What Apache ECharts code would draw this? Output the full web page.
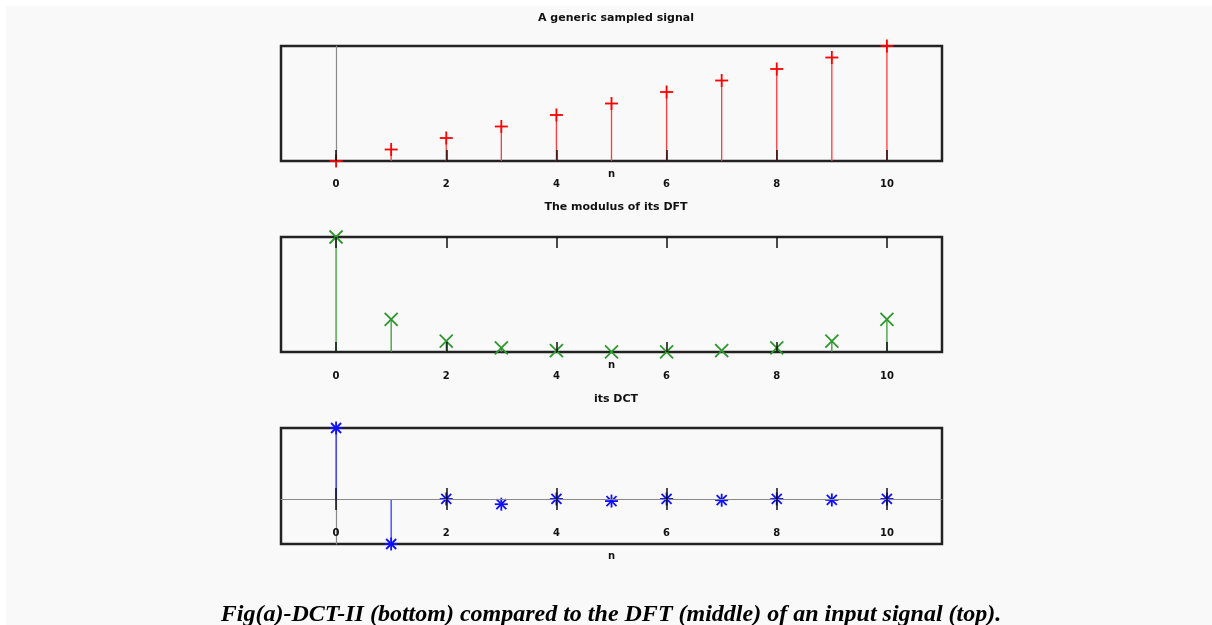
<!DOCTYPE html>
<html><head><meta charset="utf-8">
<script src="https://cdn.jsdelivr.net/npm/echarts@6/dist/echarts.min.js"></script>
<style>html,body{margin:0;padding:0;background:#fff;overflow:hidden;} #c{width:1212px;height:625px;}</style>
</head><body><div id="c"></div>
<script>
const n = [0,1,2,3,4,5,6,7,8,9,10];
const signal = [0,1,2,3,4,5,6,7,8,9,10];
const dftModulus = [55,19.5,10.2,7.3,6.05,5.56,5.56,6.05,7.3,10.2,19.5];
const dct = [16.58,-10.53,0,-1.23,0,-0.5,0,-0.3,0,-0.23,0];
const xTicks = [0,2,4,6,8,10];
const titles = ['A generic sampled signal','The modulus of its DFT','its DCT'];
const caption = 'Fig(a)-DCT-II (bottom) compared to the DFT (middle) of an input signal (top).';

const FONT = 'DejaVu Sans';
const grids = [
  {left:281, right:270, top:46, height:115},
  {left:281, right:270, top:237, height:115},
  {left:281, right:270, top:428, height:116}
];
const dctMin = -10.53, dctMax = 16.58;
// distance (px) of the zero line above the bottom edge of the DCT box
const zeroOffset = -(grids[2].height * (0 - dctMin) / (dctMax - dctMin));

function stemRender(marker, markColor, stemColor, base){
  return function(params, api){
    const cs = params.coordSys;
    const x = api.value(0), y = api.value(1);
    const p = api.coord([x, y]);
    const b = api.coord([x, base]);
    const by = Math.min(Math.max(b[1], cs.y), cs.y + cs.height);
    const h = 6.5, d = 5;
    let segs;
    if (marker === 'plus') segs = [[-h,0,h,0],[0,-h,0,h]];
    else if (marker === 'cross') segs = [[-h,-h,h,h],[-h,h,h,-h]];
    else segs = [[-h,0,h,0],[0,-h,0,h],[-d,-d,d,d],[-d,d,d,-d]];
    const children = [{
      type:'line', shape:{x1:p[0], y1:by, x2:p[0], y2:p[1]},
      style:{stroke:stemColor, lineWidth:1.3}
    }];
    segs.forEach(s => children.push({
      type:'line', shape:{x1:p[0]+s[0], y1:p[1]+s[1], x2:p[0]+s[2], y2:p[1]+s[3]},
      style:{stroke:markColor, lineWidth:1.8}
    }));
    return {type:'group', children};
  };
}

const tickStyle = {color:'#111', width:1.5};
const labelStyle = {fontFamily:FONT, fontWeight:'bold', fontSize:10, color:'#111'};
const nameStyle = {fontFamily:FONT, fontWeight:'bold', fontSize:10, color:'#111'};

const xAxes = [
  // top plot
  {gridIndex:0, type:'value', min:-1, max:11, position:'bottom',
   axisLine:{show:false, onZero:false}, splitLine:{show:false},
   axisTick:{inside:true, length:11, lineStyle:tickStyle, customValues:xTicks},
   axisLabel:Object.assign({margin:18, customValues:xTicks}, labelStyle),
   name:'n', nameLocation:'middle', nameGap:8, nameMoveOverlap:false, nameTextStyle:nameStyle, z:5},
  // middle plot bottom
  {gridIndex:1, type:'value', min:-1, max:11, position:'bottom',
   axisLine:{show:false, onZero:false}, splitLine:{show:false},
   axisTick:{inside:true, length:10, lineStyle:tickStyle, customValues:xTicks},
   axisLabel:Object.assign({margin:19, customValues:xTicks}, labelStyle),
   name:'n', nameLocation:'middle', nameGap:8, nameMoveOverlap:false, nameTextStyle:nameStyle, z:5},
  // middle plot top ticks
  {gridIndex:1, type:'value', min:-1, max:11, position:'top',
   axisLine:{show:false, onZero:false}, splitLine:{show:false},
   axisTick:{inside:true, length:11, lineStyle:tickStyle, customValues:xTicks},
   axisLabel:{show:false}, z:5},
  // bottom plot axis at zero (upward ticks + labels)
  {gridIndex:2, type:'value', min:-1, max:11, position:'bottom', offset:zeroOffset,
   axisLine:{show:true, onZero:false, lineStyle:{color:'#8a8a8a', width:1.2}}, splitLine:{show:false},
   axisTick:{inside:true, length:11, lineStyle:tickStyle, customValues:xTicks},
   axisLabel:Object.assign({margin:29, customValues:xTicks}, labelStyle),
   z:5},
  // bottom plot downward ticks
  {gridIndex:2, type:'value', min:-1, max:11, position:'bottom', offset:zeroOffset,
   axisLine:{show:false, onZero:false}, splitLine:{show:false},
   axisTick:{inside:false, length:11, lineStyle:tickStyle, customValues:xTicks},
   axisLabel:{show:false}, z:5},
  // bottom plot "n" name below box
  {gridIndex:2, type:'value', min:-1, max:11, position:'bottom',
   axisLine:{show:false, onZero:false}, splitLine:{show:false},
   axisTick:{show:false}, axisLabel:{show:false},
   name:'n', nameLocation:'middle', nameGap:7, nameMoveOverlap:false, nameTextStyle:nameStyle}
];

const yAxes = [
  {gridIndex:0, type:'value', min:0, max:10,
   axisLine:{show:true, onZero:true, lineStyle:{color:'#8a8a8a', width:1.2}},
   axisTick:{show:false}, axisLabel:{show:false}, splitLine:{show:false}},
  {gridIndex:1, type:'value', min:5.5, max:55,
   axisLine:{show:false}, axisTick:{show:false}, axisLabel:{show:false}, splitLine:{show:false}},
  {gridIndex:2, type:'value', min:dctMin, max:dctMax,
   axisLine:{show:true, onZero:true, lineStyle:{color:'#8a8a8a', width:1.2}},
   axisTick:{show:false}, axisLabel:{show:false}, splitLine:{show:false}}
];

const option = {
  animation:false,
  backgroundColor:'#ffffff',
  title: titles.map((t,i) => ({
    text:t, left:611, top:[8,197,389][i], textAlign:'center',
    textStyle:{fontFamily:FONT, fontWeight:'bold', fontSize:11, color:'#111'}
  })),
  graphic:[
    {type:'rect', shape:{x:6, y:6, width:1206, height:619}, style:{fill:'#f9f9f9'}, z:-10, silent:true},
    {type:'text', x:611, y:603, z:10, style:{text:caption, align:'center', verticalAlign:'top',
      font:'italic bold 24px "Liberation Serif"', fill:'#000'}}
  ],
  grid: grids.map(g => Object.assign({show:true, borderColor:'#222', borderWidth:2.5, backgroundColor:'transparent'}, g)),
  xAxis: xAxes,
  yAxis: yAxes,
  series:[
    {type:'custom', xAxisIndex:0, yAxisIndex:0, clip:false, z:3,
     renderItem:stemRender('plus','#ff0000','#ff3a3a',0),
     data:n.map((v,i)=>[v, signal[i]])},
    {type:'custom', xAxisIndex:1, yAxisIndex:1, clip:false, z:3,
     renderItem:stemRender('cross','#2f972f','#3a9a3a',0),
     data:n.map((v,i)=>[v, dftModulus[i]])},
    {type:'custom', xAxisIndex:3, yAxisIndex:2, clip:false, z:3,
     renderItem:stemRender('star','#1010ff','#3a3aff',0),
     data:n.map((v,i)=>[v, dct[i]])}
  ]
};
const chart = echarts.init(document.getElementById('c'), null, {renderer:'canvas'});
chart.setOption(option);
</script></body></html>
